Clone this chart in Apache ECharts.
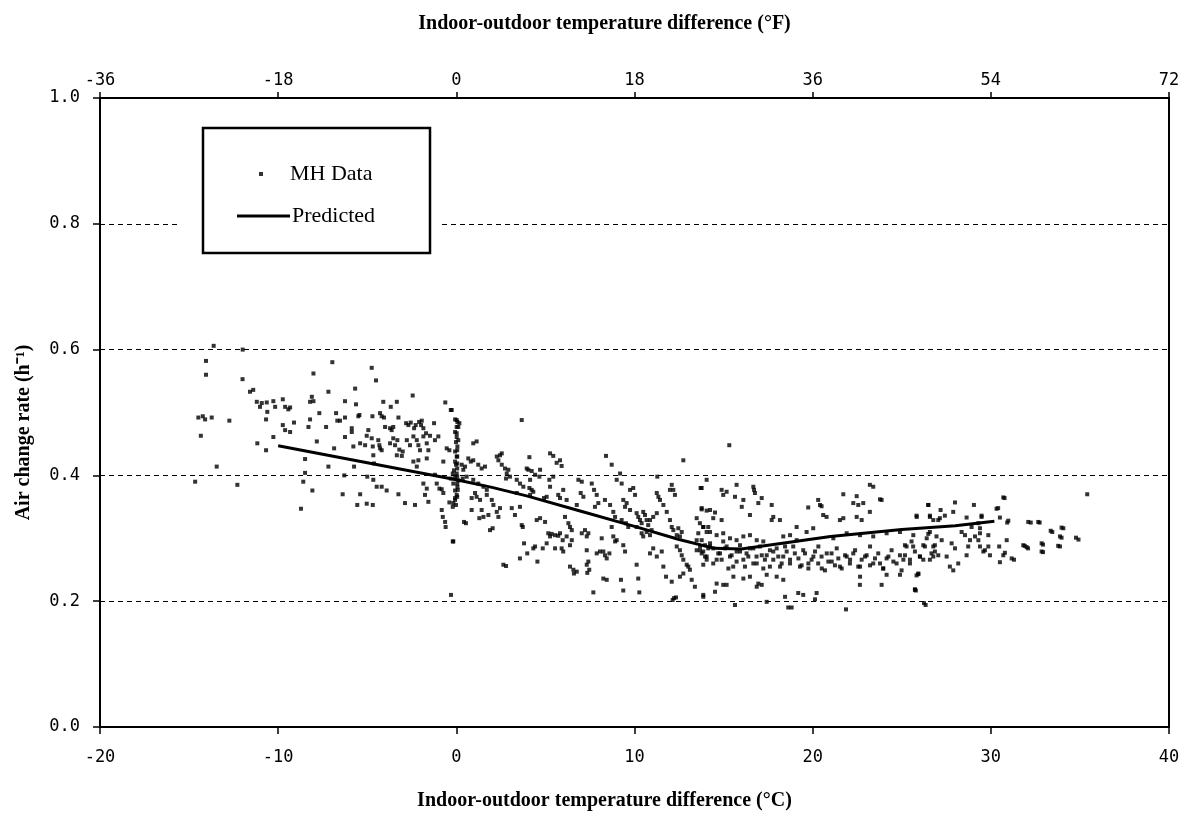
<!DOCTYPE html>
<html>
<head>
<meta charset="utf-8">
<script src="https://cdn.jsdelivr.net/npm/echarts@6/dist/echarts.min.js"></script>
<style>html,body{margin:0;padding:0;background:#fff}#chart{width:1186px;height:817px}</style>
</head>
<body>
<div id="chart"></div>
<script>
// ---- data ----
const xTitleC = 'Indoor-outdoor temperature difference (°C)';
const xTitleF = 'Indoor-outdoor temperature difference (°F)';
const yTitle = 'Air change rate (h⁻¹)';
const cRange = [-20, 40, 10];
const fRange = [-36, 72, 18];
const yRange = [0, 1, 0.2];

const predicted = [[-10,0.447],[-5,0.420],[0,0.393],[2,0.381],[4,0.367],[7,0.343],[10,0.319],[12.5,0.298],[14.5,0.284],[16,0.283],[18,0.291],[21,0.303],[25,0.314],[28,0.320],[30.2,0.327]];

const mhData = [
[-13.62,0.606],[-14.05,0.582],[-14.05,0.560],[-11.99,0.600],[-12.0,0.553],[-11.58,0.533],[-11.4,0.536],
[-14.48,0.492],[-14.23,0.494],[-14.1,0.489],[-13.73,0.492],[-14.34,0.463],[-12.74,0.487],[-13.45,0.414],[-14.66,0.390],[-12.29,0.385],[-11.17,0.451],
[-11.2,0.517],[-11.02,0.509],[-10.92,0.515],[-10.64,0.516],[-10.61,0.501],[-10.27,0.518],[-10.17,0.509],[-9.74,0.521],[-9.61,0.509],[-9.43,0.505],[-9.33,0.508],
[-10.68,0.489],[-10.68,0.440],[-10.27,0.461],[-9.74,0.480],[-9.61,0.472],[-9.33,0.469],[-9.11,0.484],
[-8.72,0.347],[-8.59,0.390],[-8.49,0.404],[-8.49,0.426],[-8.3,0.477],[-8.21,0.489],[-8.21,0.517],[-8.11,0.525],[-8.02,0.518],[-8.02,0.562],[-8.08,0.376],[-7.83,0.454],[-7.69,0.499],[-7.31,0.477],[-7.18,0.533],[-7.18,0.414],[-6.96,0.580],[-6.86,0.443],
[-6.75,0.499],[-6.68,0.487],[-6.53,0.487],[-6.25,0.492],[-6.38,0.370],[-6.29,0.400],[-6.25,0.518],[-6.25,0.461],
[-5.87,0.475],[-5.87,0.469],[-5.78,0.446],[-5.74,0.414],[-5.68,0.538],[-5.63,0.513],[-5.5,0.494],[-5.44,0.496],[-5.4,0.451],[-5.56,0.353],[-5.4,0.370],
[-5.12,0.448],[-5.03,0.463],[-4.94,0.472],[-5.03,0.355],[-5.0,0.398],[-4.75,0.571],[-4.71,0.494],[-4.75,0.459],[-4.69,0.446],[-4.66,0.432],[-4.62,0.419],[-4.69,0.353],[-4.66,0.393],[-4.47,0.382],[-4.51,0.551],
[-4.38,0.456],[-4.32,0.448],[-4.28,0.443],[-4.19,0.440],[-4.28,0.499],[-4.19,0.494],[-4.06,0.492],[-4.1,0.517],[-4.19,0.382],[-3.91,0.376],
[-4.0,0.477],[-3.72,0.475],[-3.63,0.472],[-3.54,0.477],[-3.68,0.509],[-3.34,0.517],[-3.72,0.451],[-3.54,0.459],[-3.44,0.448],[-3.31,0.456],
[-3.34,0.432],[-3.2,0.441],[-3.06,0.431],[-3.01,0.438],[-3.25,0.492],[-3.25,0.370],[-2.88,0.356],
[-2.82,0.483],[-2.69,0.480],[-2.56,0.484],[-2.37,0.475],[-2.28,0.480],[-2.09,0.485],[-1.98,0.480],[-1.85,0.475],[-1.94,0.487],[-2.45,0.527],
[-2.78,0.456],[-2.6,0.448],[-2.41,0.462],[-2.22,0.456],[-2.13,0.448],[-2.04,0.440],[-1.85,0.462],[-1.66,0.427],[-1.66,0.451],[-1.57,0.440],
[-2.41,0.422],[-2.22,0.414],[-2.13,0.424],[-1.85,0.387],[-1.66,0.379],[-1.76,0.369],[-2.32,0.353],[-1.57,0.358],
[-1.7,0.467],[-1.48,0.463],[-1.2,0.456],[-1.01,0.462],[-1.25,0.483],[-1.2,0.401],[-1.1,0.387],[-0.95,0.379],[-0.82,0.378],[-0.73,0.372],
[-0.73,0.422],[-0.54,0.443],[-0.39,0.440],[-0.31,0.395],[-0.2,0.403],[-0.62,0.516],[-0.31,0.504],[-0.82,0.345],[-0.76,0.334],[-0.63,0.326],[-0.6,0.318],[-0.17,0.295],[-0.3,0.210],[-0.39,0.357],[-0.17,0.356],[-0.07,0.364],
[0.02,0.488],[0.11,0.477],[0.02,0.467],[0.11,0.456],[0.05,0.440],[0.05,0.430],[0.05,0.419],[0.05,0.411],[0.05,0.398],[0.05,0.387],[0.08,0.377],[0.05,0.366],
[-0.26,0.504],[-0.07,0.489],[0.06,0.485],[0.17,0.483],[0.02,0.477],
[-0.07,0.469],[0.02,0.461],[-0.02,0.453],[0.06,0.446],[-0.07,0.438],[0.02,0.430],[-0.07,0.422],[-0.02,0.417],[-0.13,0.408],[0.02,0.403],[-0.07,0.398],[0.11,0.392],[-0.17,0.387],[0.06,0.382],[-0.07,0.376],[0.02,0.369],[-0.07,0.361],[-0.02,0.353],
[-0.2,0.350],[-0.2,0.295],
[0.43,0.326],[0.54,0.324],[0.3,0.417],[0.39,0.409],[0.49,0.414],[0.58,0.398],[0.36,0.395],[0.95,0.451],[1.14,0.454],[0.67,0.427],[0.81,0.422],[0.95,0.424],
[0.95,0.393],[0.86,0.364],[1.05,0.372],[1.14,0.366],[1.33,0.361],[1.42,0.345],[0.86,0.345],
[1.23,0.417],[1.42,0.411],[1.61,0.414],[1.23,0.387],[1.52,0.382],[1.71,0.377],[1.71,0.369],
[1.29,0.332],[1.52,0.334],[1.8,0.337],[1.89,0.313],[2.04,0.316],
[1.99,0.361],[2.08,0.353],[2.27,0.342],[2.36,0.334],[2.45,0.348],
[2.27,0.430],[2.45,0.432],[2.55,0.435],[2.36,0.424],[2.55,0.417],
[2.73,0.411],[2.83,0.403],[2.92,0.409],[3.01,0.398],[2.79,0.395],
[2.64,0.258],[2.79,0.256],
[3.11,0.348],[3.29,0.337],[3.57,0.350],[3.67,0.321],[3.73,0.318],
[3.57,0.268],[3.8,0.292],[3.98,0.276],
[3.39,0.393],[3.57,0.387],[3.76,0.382],[3.39,0.372],[3.67,0.488],
[3.95,0.411],[4.1,0.429],[4.04,0.409],[4.23,0.407],[4.14,0.393],
[4.1,0.380],[4.23,0.377],[4.32,0.374],[4.14,0.369],
[4.32,0.284],[4.42,0.287],[4.55,0.263],
[4.42,0.401],[4.66,0.398],[4.7,0.409],
[4.51,0.329],[4.7,0.332],[4.98,0.326],
[4.92,0.364],[5.07,0.366],[5.26,0.382],[5.22,0.393],
[4.85,0.284],[5.07,0.292],
[5.16,0.308],[5.26,0.303],[5.35,0.307],[5.54,0.305],[5.72,0.304],[5.82,0.308],[5.97,0.297],
[5.26,0.435],[5.44,0.431],[5.63,0.420],[5.82,0.424],[5.91,0.415],
[5.44,0.398],[5.72,0.369],[5.82,0.364],[6.0,0.377],[6.19,0.361],
[5.54,0.284],[5.91,0.284],[6.0,0.279],
[6.1,0.334],[6.29,0.324],[6.38,0.318],[6.48,0.313],
[6.19,0.303],[6.38,0.289],[6.48,0.297],
[6.38,0.255],[6.6,0.244],[6.76,0.247],[6.57,0.250],
[6.85,0.393],[7.04,0.390],[6.98,0.372],[7.13,0.366],[6.76,0.353],
[7.04,0.308],[7.22,0.313],[7.32,0.303],[7.41,0.308],
[7.32,0.281],[7.41,0.263],[7.32,0.258],[7.46,0.250],[7.35,0.245],
[7.69,0.214],
[7.6,0.387],[7.73,0.377],[7.88,0.369],[7.97,0.356],[7.78,0.350],
[7.88,0.276],[8.06,0.279],[8.16,0.300],
[8.25,0.279],[8.34,0.273],[8.44,0.268],[8.59,0.276],
[8.25,0.236],[8.44,0.234],
[8.4,0.431],[8.72,0.417],
[8.34,0.361],[8.63,0.353],[8.81,0.342],[8.91,0.334],[8.72,0.318],
[8.81,0.303],[8.91,0.295],[9.0,0.297],
[9.19,0.403],[9.28,0.387],[9.0,0.393],
[9.24,0.234],[9.37,0.217],
[9.37,0.361],[9.47,0.350],[9.56,0.356],[9.75,0.345],[9.28,0.329],[9.52,0.324],[9.65,0.318],
[9.37,0.289],[9.47,0.279],
[9.75,0.377],[9.93,0.380],[10.03,0.369],
[10.12,0.340],[10.21,0.334],[10.31,0.329],[10.4,0.324],[10.12,0.318],[10.49,0.342],[10.59,0.337],
[10.12,0.258],[10.21,0.236],[10.27,0.214],
[10.4,0.308],[10.49,0.303],[10.68,0.310],[10.87,0.305],[10.96,0.313],
[10.68,0.329],[10.77,0.321],[10.87,0.329],[11.05,0.334],[11.25,0.340],
[11.25,0.372],[11.34,0.366],[11.43,0.361],[11.62,0.353],[11.81,0.342],
[10.87,0.276],[11.05,0.284],[11.25,0.271],[11.53,0.279],
[11.62,0.255],[11.77,0.239],[12.09,0.231],[12.14,0.202],[12.22,0.205],[12.33,0.206],
[11.28,0.398],
[12.09,0.385],[11.99,0.377],[12.18,0.377],[12.27,0.369],
[11.99,0.329],[12.09,0.318],[12.18,0.313],[12.37,0.305],[12.55,0.303],[12.46,0.316],[12.65,0.310],
[12.37,0.287],[12.55,0.281],[12.65,0.273],[12.74,0.266],[12.93,0.258],[13.02,0.255],[13.11,0.250],[12.55,0.239],[12.74,0.244],[13.21,0.234],[13.39,0.223],
[12.74,0.424],
[13.49,0.332],[13.67,0.324],[13.86,0.318],[14.05,0.310],[13.58,0.308],[13.77,0.297],[13.96,0.289],[14.14,0.284],[13.49,0.281],[13.77,0.276],[14.05,0.266],[13.86,0.258],
[13.71,0.380],[13.77,0.348],[14.14,0.318],[14.24,0.345],[13.86,0.210],
[15.32,0.448],[14.05,0.393],[13.77,0.380],[14.89,0.377],[15.17,0.374],[14.98,0.369],
[15.73,0.385],[15.64,0.366],[16.11,0.361],[16.02,0.350],[16.48,0.337],
[16.67,0.382],[16.71,0.377],[16.76,0.372],[17.14,0.364],[16.95,0.356],
[13.77,0.346],[14.05,0.344],[14.52,0.341],[14.89,0.329],[14.42,0.332],
[13.86,0.318],[14.24,0.310],[14.61,0.305],[14.98,0.308],[15.36,0.300],[15.73,0.297],[16.11,0.303],[16.48,0.305],[16.86,0.297],[17.23,0.295],
[13.68,0.281],[13.96,0.271],[14.24,0.287],[14.42,0.260],[14.70,0.276],[14.89,0.266],[15.08,0.284],[15.27,0.252],[15.45,0.273],[15.73,0.263],[15.92,0.279],[16.20,0.255],[16.39,0.271],[16.67,0.284],[16.86,0.260],[17.14,0.273],[17.32,0.266],[17.60,0.255],[17.79,0.279],[18.07,0.271],[18.26,0.260],
[13.86,0.207],[14.61,0.228],[14.52,0.215],[14.98,0.226],[15.17,0.226],[15.64,0.194],[16.95,0.228],[17.14,0.226],[16.86,0.223],[17.42,0.199],[18.45,0.207],[18.63,0.190],[18.82,0.190],[19.19,0.213],[19.47,0.210],[20.22,0.213],[20.13,0.203],[21.87,0.187],[22.65,0.226],[23.87,0.226],[25.74,0.218],[25.93,0.243],[26.25,0.197],
[17.70,0.353],[17.79,0.334],[17.70,0.329],[18.16,0.329],[19.75,0.349],[20.31,0.361],[20.41,0.353],[20.50,0.351],[20.59,0.337],[20.78,0.334],[21.72,0.370],[22.47,0.367],[22.28,0.356],[22.56,0.353],[22.84,0.356],[23.21,0.385],[23.40,0.382],[23.87,0.361],[23.21,0.342],[22.75,0.329],[21.72,0.332],[21.53,0.329],[22.47,0.334],[25.84,0.334],[26.58,0.334],[26.49,0.353],[26.77,0.329],[27.05,0.329],[19.10,0.318],[19.66,0.310],[20.03,0.316],[18.35,0.303],[18.73,0.305],[19.10,0.297],
[18.45,0.287],[18.73,0.266],[19.00,0.276],[19.29,0.255],[19.47,0.281],[19.76,0.260],[20.04,0.271],[20.32,0.287],[20.51,0.252],[20.79,0.276],[21.07,0.263],[21.35,0.284],[21.53,0.255],[21.82,0.273],[22.10,0.266],[22.38,0.281],[22.66,0.255],[22.94,0.271],[23.22,0.287],[23.40,0.260],[23.68,0.276],[23.96,0.252],[24.15,0.268],[24.43,0.281],[24.71,0.260],[24.90,0.273],[25.18,0.289],[25.46,0.266],[25.74,0.279],[26.02,0.271],[26.30,0.287],[26.58,0.266],[26.86,0.279],[27.05,0.273],
[21.16,0.300],[21.91,0.308],[22.66,0.305],[23.40,0.303],[24.15,0.308],[24.90,0.310],[25.65,0.305],[26.40,0.300],
[15.55,0.239],[16.11,0.236],[16.48,0.239],[17.42,0.242],[17.98,0.239],[18.35,0.234],[24.15,0.242],[24.90,0.242],[22.66,0.239],
[35.41,0.370],[30.70,0.365],[30.41,0.348],[30.51,0.333],[30.92,0.325],[30.98,0.328],[32.10,0.326],[32.66,0.326],[30.89,0.297],[31.17,0.268],[30.47,0.287],[30.51,0.262],[31.82,0.289],[32.01,0.286],[32.85,0.292],[32.85,0.279],[33.36,0.312],[33.97,0.317],[33.88,0.303],[33.78,0.288],[34.78,0.301],[30.70,0.273],[30.79,0.277],
[29.86,0.305],[29.86,0.287],[29.95,0.273],[29.58,0.279],[29.67,0.281],[29.39,0.287],[29.30,0.297],[29.39,0.308],[29.39,0.316],[29.48,0.334],[29.30,0.324],[29.11,0.303],[28.73,0.287],[28.83,0.297],[28.92,0.318],[28.64,0.273],[28.55,0.305],[28.36,0.310],[27.99,0.284],[27.89,0.249],[28.17,0.260],[27.80,0.292],[27.70,0.255],[27.52,0.271],[27.24,0.297],[26.95,0.303],[26.77,0.287],[26.67,0.276],[26.77,0.271],[26.86,0.289],[26.58,0.310],[26.49,0.307],[26.21,0.289],[26.21,0.266],[26.02,0.271],[25.93,0.244],[25.83,0.241],[25.74,0.219],[25.64,0.287],[25.55,0.295],[25.27,0.287],[25.18,0.273],[25.09,0.266],[24.99,0.249],[25.46,0.260],
[26.49,0.353],[27.18,0.345],[27.99,0.357],[27.89,0.342],[29.05,0.353],[29.48,0.336],[30.32,0.347],[25.83,0.336],[26.58,0.336],[27.14,0.332],[27.42,0.336],[28.64,0.333],
[32.24,0.325],[32.74,0.325],[33.45,0.310],[34.07,0.316],[33.97,0.301],[33.88,0.287],[34.92,0.298],[31.90,0.288],[32.09,0.284],[32.93,0.290],[32.93,0.278],[31.30,0.266],[30.77,0.364],[25.79,0.217],[26.34,0.194],[23.78,0.362],
[13.49,0.297],[13.68,0.287],[13.86,0.279],[14.05,0.271],[14.24,0.292],[14.42,0.284],[14.61,0.266],[14.80,0.276],[14.98,0.295],[15.17,0.287],[15.36,0.271],[15.54,0.255],[15.73,0.279],[15.92,0.289],[16.11,0.266],[16.29,0.276],[16.48,0.284],[16.67,0.260],[16.85,0.271],[17.04,0.287],[17.23,0.252],[17.42,0.273],[17.60,0.281],[17.79,0.266],[17.98,0.284],[18.17,0.255],[18.35,0.271],[18.54,0.279],[18.73,0.260],[18.91,0.287],[19.20,0.268],[19.38,0.257],[19.57,0.276],[19.76,0.252],[19.94,0.266],[20.13,0.279],[20.31,0.260],[20.50,0.271],[20.69,0.249],[20.88,0.263],[21.06,0.276],[21.25,0.257],[21.44,0.268],[21.63,0.252],[21.91,0.271],[22.09,0.260],[22.28,0.276],[22.56,0.255],[22.75,0.266],[23.03,0.273],[23.22,0.257],[23.50,0.268],[23.78,0.260],[23.96,0.252],[24.25,0.271],[24.53,0.263]
];

// ---- chart ----
const tickFont = {fontFamily:'DejaVu Sans Mono', fontSize:17, color:'#000'};
const titleFont = {fontFamily:'Liberation Serif', fontWeight:'bold', fontSize:20, color:'#000'};
const legendFont = {fontFamily:'Liberation Serif', fontSize:22, color:'#000'};
const axisLine = {show:true, onZero:false, lineStyle:{color:'#000', width:2}};

const chart = echarts.init(document.getElementById('chart'), null, {renderer:'canvas'});
chart.setOption({
  animation:false,
  backgroundColor:'#fff',
  grid:{left:100, right:17, top:98, bottom:90, show:true, borderColor:'#000', borderWidth:2, backgroundColor:'transparent'},
  xAxis:[
    {type:'value', position:'bottom', min:cRange[0], max:cRange[1], interval:cRange[2],
     axisLine:axisLine, axisTick:{show:true, length:7, lineStyle:{color:'#000', width:1.5}},
     axisLabel:Object.assign({margin:22}, tickFont), splitLine:{show:false},
     name:xTitleC, nameLocation:'middle', nameGap:64,
     nameTextStyle:Object.assign({padding:[0,60,0,0]}, titleFont)},
    {type:'value', position:'top', min:fRange[0], max:fRange[1], interval:fRange[2],
     axisLine:axisLine, axisTick:{show:true, length:6, lineStyle:{color:'#000', width:1.5}},
     axisLabel:Object.assign({margin:9}, tickFont), splitLine:{show:false},
     name:xTitleF, nameLocation:'middle', nameGap:64,
     nameTextStyle:Object.assign({padding:[0,60,0,0]}, titleFont)},
    {type:'value', position:'top', min:fRange[0], max:fRange[1], interval:fRange[2],
     axisLine:{show:false}, axisLabel:{show:false}, splitLine:{show:false},
     axisTick:{show:true, inside:true, length:7, lineStyle:{color:'#000', width:1.5}}}
  ],
  yAxis:{type:'value', min:yRange[0], max:yRange[1], interval:yRange[2],
    axisLine:axisLine, axisTick:{show:true, length:7, lineStyle:{color:'#000', width:1.5}},
    axisLabel:Object.assign({margin:20, formatter:v=>v.toFixed(1)}, tickFont),
    splitLine:{show:true, lineStyle:{color:'#000', width:1, type:[5,4]}},
    name:yTitle, nameLocation:'middle', nameGap:66, nameRotate:90,
    nameTextStyle:Object.assign({padding:[0,40,0,0]}, titleFont)},
  legend:[
    {data:[{name:'MH Data', icon:'rect'}], left:254, top:158, itemWidth:4, itemHeight:4,
     selectedMode:false, textStyle:Object.assign({padding:[0,0,0,22]}, legendFont), z:10},
    {data:[{name:'Predicted', icon:'rect'}], left:232, top:200, itemWidth:53, itemHeight:3,
     selectedMode:false, itemStyle:{color:'#000'}, textStyle:Object.assign({padding:[0,0,0,-3]}, legendFont), z:10}
  ],
  graphic:[
    {type:'rect', z:5, shape:{x:180, y:219, width:262, height:10}, style:{fill:'#fff'}},
    {type:'rect', z:6, shape:{x:203, y:128, width:227, height:125}, style:{fill:'#fff', stroke:'#000', lineWidth:2.5}}
  ],
  series:[
    {name:'MH Data', type:'scatter', xAxisIndex:0, yAxisIndex:0, data:mhData,
     symbol:'rect', symbolSize:4, itemStyle:{color:'#000'}, z:2},
    {name:'Predicted', type:'line', xAxisIndex:0, yAxisIndex:0, data:predicted,
     showSymbol:false, symbol:'none', lineStyle:{color:'#000', width:3}, itemStyle:{color:'#000'}, z:3}
  ]
});
</script>
</body>
</html>
